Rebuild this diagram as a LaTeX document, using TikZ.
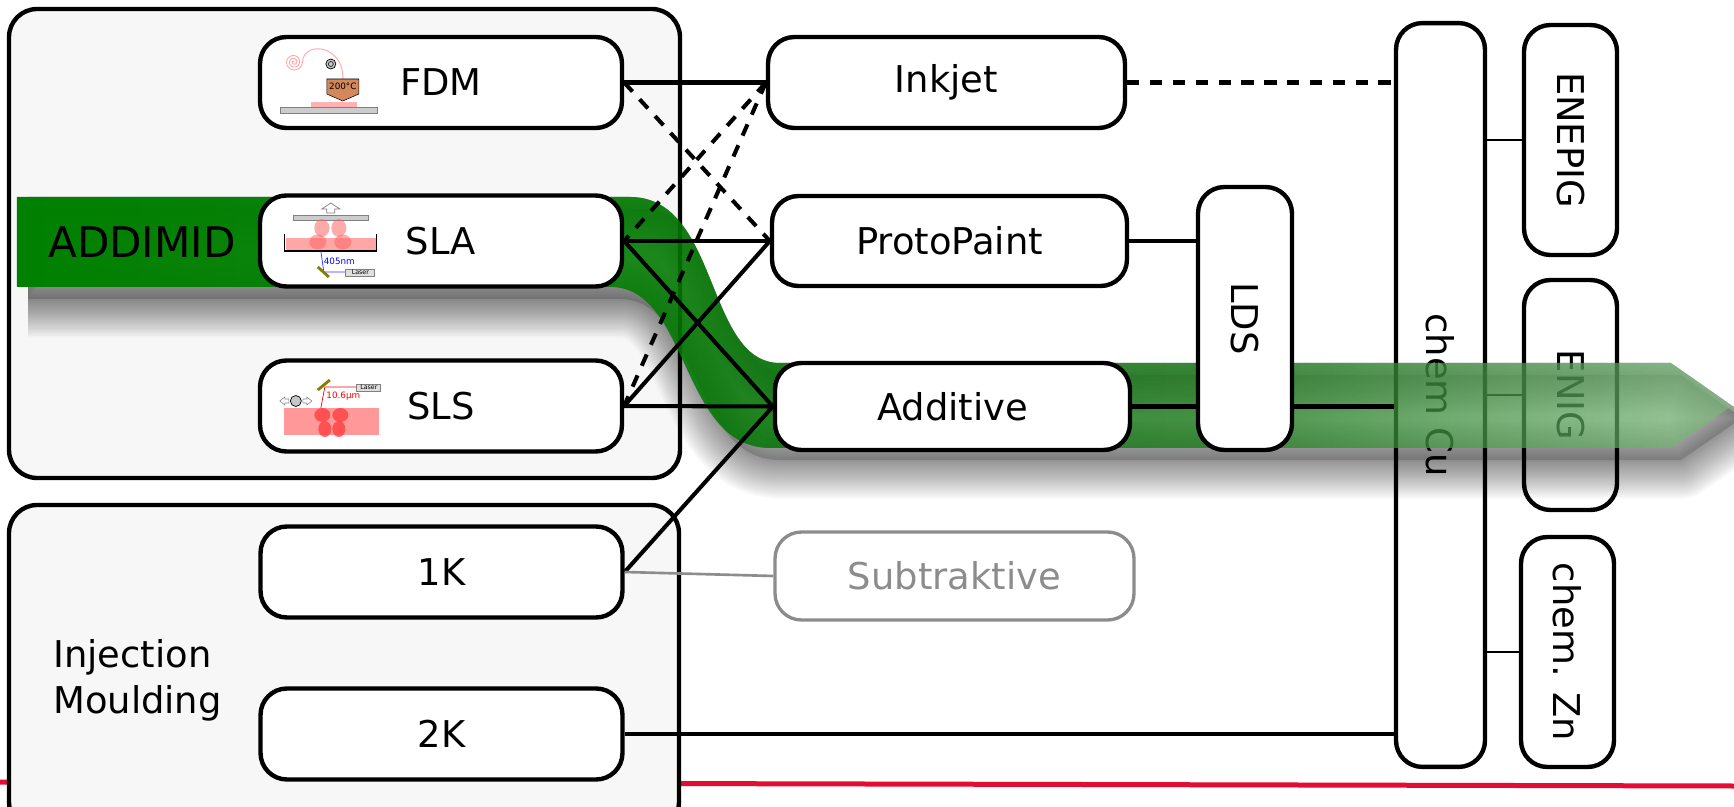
\documentclass[tikz,border=0pt]{standalone}
\usepackage{fontspec}
\setmainfont{DejaVu Sans}
\usepackage{graphicx}
\usetikzlibrary{fadings}

\definecolor{unired}{RGB}{227,12,52}
\definecolor{subgray}{RGB}{140,140,140}
\definecolor{nozzle}{RGB}{212,135,90}
\definecolor{mirror}{RGB}{128,128,0}

\newcommand{\boxfont}{\fontsize{21}{26}\selectfont}
\newcommand{\bandfont}{\fontsize{24}{28}\selectfont}
\newcommand{\tinyfont}{\fontsize{5}{6}\selectfont}
\newcommand{\lasfont}{\fontsize{3.6}{4}\selectfont}

\tikzstyle{proc}=[draw, line width=2.5pt, rounded corners=15pt, fill=white, inner sep=0pt, minimum width=7.24cm, minimum height=1.82cm, font=\boxfont]
\tikzstyle{vproc}=[proc, minimum width=1.86cm, minimum height=4.6cm]
\tikzstyle{groupbox}=[draw, line width=2.5pt, rounded corners=16pt, fill=black!3]
\tikzstyle{conn}=[line width=2.3pt]
\tikzstyle{dconn}=[conn, dash pattern=on 7pt off 6pt]
\tikzstyle{thinconn}=[line width=1.5pt]

% green route, dark on the left and lighter towards the tip
\pgfdeclarehorizontalshading{bandshade}{100bp}{rgb(0bp)=(0,0.502,0); rgb(42bp)=(0,0.502,0); rgb(47bp)=(0.012,0.459,0.012); rgb(59.5bp)=(0.086,0.478,0.086); rgb(75bp)=(0.486,0.741,0.486); rgb(100bp)=(0.486,0.741,0.486)}
\tikzfading[name=bandfade, left color=transparent!0, right color=transparent!35]

\newcommand{\bandpath}{(17,197) -- (630,197) .. controls (720,197) and (705,363) .. (780,363) -- (1671,363) -- (1732,406) -- (1671,448) -- (770,448) .. controls (680,448) and (690,287) .. (610,287) -- (17,287) -- cycle}

\begin{document}
\begin{tikzpicture}[x=0.02cm,y=-0.02cm]
\useasboundingbox (0,0) rectangle (1734,807);

\draw[unired, line width=0.1cm] (0,782) -- (1734,786);

% process groups
\draw[groupbox] (9,9) rectangle (680,478);
\draw[groupbox] (9,505) rectangle (679,830);
\node[anchor=west, align=left, font=\boxfont] (moulding) at (47,680) {Injection\\Moulding};

% metallisation column, under the route
\node[proc, minimum width=1.78cm, minimum height=14.88cm] (cu) at (1440.5,395) {\rotatebox{-90}{chem Cu}};
\node[vproc] (enepig) at (1570.5,140) {\rotatebox{-90}{ENEPIG}};
\node[vproc] (enig) at (1570.5,395) {\rotatebox{-90}{ENIG}};
\node[vproc] (zn) at (1567.5,652) {\rotatebox{-90}{chem. Zn}};
\draw[thinconn] (cu.east |- enepig) -- (enepig.west);
\draw[thinconn] (cu.east |- enig) -- (enig.west);
\draw[thinconn] (cu.east |- zn) -- (zn.west);

% soft shadow, only below the route
\begin{scope}
  \clip (28,197) -- (630,197) .. controls (720,197) and (705,363) .. (780,363) -- (1671,363) -- (1734,407) -- (1734,807) -- (28,807) -- cycle;
  \begin{scope}[shift={(10,12)}]
    \foreach \w in {2,4,...,44}
      \draw[black, opacity=0.022, line width=\w pt, line join=round] \bandpath;
    \fill[black, opacity=0.16] \bandpath;
  \end{scope}
\end{scope}
\shade[shading=bandshade, path fading=bandfade] \bandpath;
\node[anchor=west, font=\bandfont] (addimid) at (42,242) {ADDIMID};

% processes
\node[proc] (fdm) at (441,82.5) {FDM};
\node[proc] (sla) at (441,241) {SLA};
\node[proc] (sls) at (441,406) {SLS};
\node[proc] (k1) at (441.5,572) {1K};
\node[proc] (k2) at (441.5,734) {2K};

\node[proc, minimum width=7.14cm] (ink) at (946.5,82.5) {Inkjet};
\node[proc, minimum width=7.1cm, minimum height=1.8cm] (pp) at (949.5,241) {ProtoPaint};
\node[proc, minimum width=7.1cm, minimum height=1.74cm] (add) at (952.5,406.5) {Additive};
\node[proc, draw=subgray, text=subgray, line width=1.9pt, minimum width=7.18cm, minimum height=1.76cm] (sub) at (954.5,576) {Subtraktive};
\node[proc, minimum width=1.88cm, minimum height=5.26cm] (lds) at (1245,318.5) {\rotatebox{-90}{LDS}};

\draw[conn] (fdm.east) -- (ink.west);
\draw[dconn] (fdm.east) -- (pp.west);
\draw[dconn] (ink.west) -- (sla.east);
\draw[dconn] (ink.west) -- (sls.east);
\draw[conn] (sla.east) -- (pp.west);
\draw[conn] (sla.east) -- (add.west);
\draw[conn] (sls.east) -- (pp.west);
\draw[conn] (sls.east) -- (add.west);
\draw[conn] (k1.east) -- (add.west);
\draw[conn, subgray, line width=1.5pt] (k1.east) -- (sub.west);
\draw[dconn, line width=2.8pt] (ink.east) -- (ink.east -| cu.west);
\draw[thinconn, line width=1.8pt] (pp.east) -- (pp.east -| lds.west);
\draw[conn] (add.east) -- (add.east -| lds.west);
\draw[conn] (lds.east |- add.east) -- (add.east -| cu.west);
\draw[conn] (k2.east) -- (k2.east -| cu.west);

% FDM sketch
\begin{scope}[shift={(fdm.west)}]
  \draw[red!35, line width=0.5pt] plot[domain=0:1080, samples=90, smooth] ({36+0.008*\x*cos(\x)}, {-20.5-0.008*\x*sin(\x)});
  \draw[red!35, line width=0.5pt] (44.6,-20.5) .. controls (46,-42) and (86,-38) .. (85,-3.5);
  \draw[fill=gray!45, line width=0.4pt] (73,-18.5) circle[radius=0.1cm];
  \draw[line width=0.3pt] (73,-18.5) circle[radius=0.05cm];
  \fill[red!30] (53,19.5) rectangle (99,24.5);
  \draw[gray, fill=gray!40, line width=0.4pt] (23,24.5) rectangle (120,30.5);
  \draw[fill=nozzle, line width=0.3pt] (69,-3.5) -- (101,-3.5) -- (101,11.5) -- (85,18.5) -- (69,11.5) -- cycle;
  \node[font=\tinyfont, inner sep=0pt] (fdmtemp) at (85,3.5) {200°C};
\end{scope}

% SLA sketch
\begin{scope}[shift={(sla.west)}]
  \draw[gray, fill=white, line width=0.4pt] (69,-28) -- (69,-32) -- (64,-32) -- (73,-38) -- (82,-32) -- (77,-32) -- (77,-28) -- cycle;
  \draw[gray, fill=gray!40, line width=0.4pt] (36,-26) rectangle (111,-21);
  \fill[red!35] (28,-3) rectangle (118,9);
  \draw[line width=0.6pt] (27,-7) -- (27,10) -- (119,10) -- (119,-7);
  \foreach \cx/\cy/\rx/\ry in {64/-13/0.15/0.18, 81/-13/0.15/0.18, 60/1/0.17/0.15, 85/1/0.17/0.15}
    \fill[red!60, opacity=0.55] (\cx,\cy) ellipse[x radius=\rx cm, y radius=\ry cm];
  \draw[blue!80, line width=0.4pt] (63,10) -- (66,31) -- (88,31);
  \draw[mirror, line width=1.6pt] (60,26) -- (71,36);
  \node[font=\tinyfont, text=blue, inner sep=0pt] (slawave) at (81.5,20.5) {405nm};
  \node[draw=gray, fill=gray!25, font=\lasfont, inner sep=0.3pt, minimum width=0.58cm, minimum height=0.14cm] (slalaser) at (102.5,31.5) {Laser};
\end{scope}

% SLS sketch
\begin{scope}[shift={(sls.west)}]
  \fill[red!40] (26,2) rectangle (121,29);
  \foreach \cx/\cy/\rx/\ry in {64.5/9/0.16/0.14, 82.5/9/0.16/0.14, 67/23/0.13/0.16, 81/23/0.13/0.16}
    \fill[red!75, opacity=0.8] (\cx,\cy) ellipse[x radius=\rx cm, y radius=\ry cm];
  \draw[gray, fill=white, line width=0.3pt] (31,-7) -- (27,-7) -- (27,-9) -- (22,-5) -- (27,-1) -- (27,-3) -- (31,-3) -- cycle;
  \draw[gray, fill=white, line width=0.3pt] (45,-7) -- (49,-7) -- (49,-9) -- (54,-5) -- (49,-1) -- (49,-3) -- (45,-3) -- cycle;
  \draw[fill=gray!45, line width=0.4pt] (38,-5) circle[radius=0.11cm];
  \draw[red, line width=0.4pt] (63,2) -- (67,-19) -- (100,-19);
  \draw[mirror, line width=1.6pt] (60,-16) -- (72,-26);
  \node[font=\tinyfont, text=red, inner sep=0pt] (slswave) at (85.5,-10) {10.6μm};
  \node[draw=gray, fill=gray!25, font=\lasfont, inner sep=0.3pt, minimum width=0.48cm, minimum height=0.14cm] (slslaser) at (111,-18.5) {Laser};
\end{scope}
\end{tikzpicture}
\end{document}
